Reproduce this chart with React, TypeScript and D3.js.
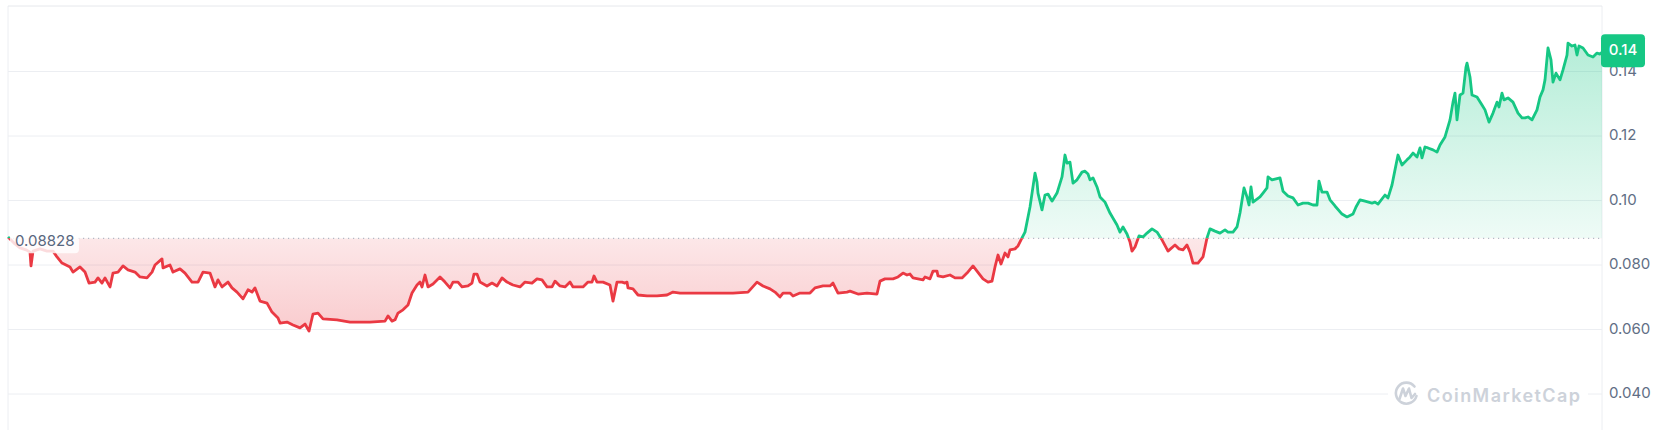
import React from "react";
import * as d3 from "d3";

// hours since start of the period
const hours = [
  0, 6, 12, 18, 22, 23, 25, 32, 39, 45, 49, 54, 62, 65, 72, 77, 81, 87, 90, 94,
  97, 102, 105, 110, 115, 120, 127, 132, 139, 144, 147, 154, 155, 162, 165, 172, 177, 184, 190, 195,
  202, 207, 210, 214, 220, 224, 229, 235, 240, 244, 247, 252, 259, 264, 270, 272, 279, 285, 292, 297,
  301, 305, 310, 315, 329, 342, 362, 377, 380, 384, 387, 390, 395, 400, 404, 409, 412, 414, 417, 420,
  425, 432, 437, 442, 445, 450, 454, 460, 464, 466, 469, 472, 479, 484, 489, 494, 499, 505, 512, 517,
  524, 529, 534, 539, 544, 547, 552, 557, 562, 565, 575, 580, 584, 586, 589, 595, 602, 605, 609, 614,
  617, 619, 620, 625, 630, 639, 649, 659, 665, 672, 685, 699, 712, 725, 740, 749, 755, 762, 767, 772,
  775, 782, 785, 792, 802, 807, 815, 822, 825, 830, 839, 842, 850, 859, 869, 872, 877, 885, 890, 895,
  899, 902, 905, 915, 917, 922, 925, 929, 930, 935, 942, 947, 954, 959, 965, 969, 975, 980, 984, 987,
  990, 993, 997, 1000, 1002, 1007, 1010, 1014, 1017, 1022, 1027, 1029, 1030, 1034, 1037, 1040, 1044, 1049, 1054, 1057,
  1059, 1062, 1065, 1069, 1074, 1077, 1080, 1082, 1085, 1089, 1092, 1097, 1102, 1109, 1112, 1115, 1119, 1122, 1124, 1127,
  1131, 1135, 1139, 1144, 1149, 1154, 1160, 1167, 1171, 1175, 1179, 1182, 1185, 1190, 1195, 1199, 1202, 1207, 1212, 1217,
  1220, 1225, 1229, 1232, 1236, 1239, 1241, 1243, 1245, 1252, 1255, 1259, 1260, 1264, 1272, 1275, 1280, 1285, 1290, 1295,
  1300, 1305, 1309, 1311, 1314, 1319, 1322, 1327, 1334, 1339, 1345, 1348, 1352, 1357, 1364, 1367, 1370, 1377, 1380, 1384,
  1387, 1390, 1394, 1399, 1402, 1405, 1409, 1412, 1414, 1417, 1420, 1425, 1429, 1432, 1437, 1442, 1445, 1447, 1449, 1452,
  1455, 1458, 1459, 1462, 1464, 1469, 1474, 1477, 1481, 1485, 1489, 1491, 1494, 1496, 1500, 1505, 1510, 1514, 1517, 1520,
  1524, 1529, 1532, 1535, 1537, 1540, 1543, 1545, 1548, 1552, 1555, 1559, 1560, 1564, 1567, 1569, 1571, 1575, 1580, 1585,
  1589, 1592, 1594,
];

// price in USD
const prices = [
  0.0887, 0.0868, 0.0853, 0.0847, 0.084, 0.0797, 0.0843, 0.085, 0.0843, 0.0843, 0.0825, 0.0806, 0.0794, 0.0778, 0.0794, 0.0778, 0.0744, 0.0747, 0.076, 0.0744,
  0.076, 0.0732, 0.0775, 0.0778, 0.0797, 0.0785, 0.0778, 0.0763, 0.076, 0.0778, 0.08, 0.0819, 0.0791, 0.08, 0.0778, 0.0788, 0.0775, 0.0747, 0.0747, 0.0778,
  0.0775, 0.0732, 0.0754, 0.0732, 0.0747, 0.0729, 0.0716, 0.0695, 0.0723, 0.0716, 0.0729, 0.0688, 0.0682, 0.0654, 0.0636, 0.062, 0.0623, 0.0614, 0.0605, 0.0617,
  0.0595, 0.0648, 0.0651, 0.0633, 0.063, 0.0623, 0.0623, 0.0626, 0.0642, 0.0626, 0.063, 0.0651, 0.0661, 0.0676, 0.0713, 0.0738, 0.0747, 0.0732, 0.0769, 0.0732,
  0.0741, 0.0763, 0.0747, 0.0729, 0.0747, 0.0747, 0.0732, 0.0735, 0.0744, 0.0772, 0.0772, 0.0747, 0.0735, 0.0744, 0.0735, 0.076, 0.0747, 0.0738, 0.0732, 0.0747,
  0.0744, 0.0757, 0.0754, 0.0732, 0.0732, 0.075, 0.0735, 0.0732, 0.0747, 0.0732, 0.0732, 0.0747, 0.0747, 0.0766, 0.0747, 0.0747, 0.0738, 0.0688, 0.0747, 0.0747,
  0.0744, 0.0747, 0.0729, 0.0726, 0.0707, 0.0704, 0.0704, 0.0707, 0.0716, 0.0713, 0.0713, 0.0713, 0.0713, 0.0713, 0.0716, 0.0747, 0.0735, 0.0726, 0.0716, 0.0701,
  0.0713, 0.0713, 0.0704, 0.0713, 0.0713, 0.0729, 0.0735, 0.0735, 0.0744, 0.0713, 0.0716, 0.0719, 0.071, 0.0713, 0.071, 0.075, 0.0757, 0.0757, 0.0763, 0.0775,
  0.0769, 0.0772, 0.076, 0.0754, 0.0763, 0.0757, 0.0781, 0.0781, 0.0766, 0.0763, 0.0769, 0.076, 0.076, 0.0775, 0.0797, 0.0781, 0.0757, 0.0747, 0.075, 0.0794,
  0.0831, 0.0803, 0.0837, 0.0825, 0.0847, 0.085, 0.0859, 0.0884, 0.0902, 0.098, 0.1085, 0.1057, 0.1023, 0.0971, 0.1017, 0.102, 0.0998, 0.1023, 0.1073, 0.1141,
  0.1116, 0.1119, 0.1054, 0.1064, 0.1088, 0.1091, 0.1082, 0.1064, 0.107, 0.1042, 0.1011, 0.0995, 0.0961, 0.0924, 0.0902, 0.0918, 0.0896, 0.0871, 0.0843, 0.0856,
  0.089, 0.0887, 0.0899, 0.0912, 0.0902, 0.0878, 0.0843, 0.0862, 0.085, 0.0847, 0.0862, 0.084, 0.0806, 0.0806, 0.0825, 0.0884, 0.0912, 0.0905, 0.0899, 0.0909,
  0.0902, 0.0902, 0.0918, 0.0961, 0.1039, 0.1011, 0.0986, 0.1042, 0.0995, 0.1011, 0.1023, 0.1039, 0.1073, 0.1064, 0.107, 0.1029, 0.1014, 0.1008, 0.0986, 0.0992,
  0.0992, 0.0986, 0.0986, 0.106, 0.1026, 0.1026, 0.1002, 0.0983, 0.0958, 0.0949, 0.0958, 0.098, 0.1002, 0.0998, 0.0992, 0.0995, 0.0989, 0.1017, 0.1008, 0.1048,
  0.1095, 0.1141, 0.111, 0.1126, 0.1135, 0.1147, 0.1135, 0.1163, 0.1132, 0.1166, 0.1163, 0.1157, 0.115, 0.1172, 0.1197, 0.125, 0.1305, 0.1333, 0.125, 0.1327,
  0.1333, 0.1414, 0.1426, 0.1383, 0.1327, 0.1321, 0.1296, 0.1281, 0.1243, 0.1271, 0.1305, 0.129, 0.1333, 0.1312, 0.1318, 0.1305, 0.1271, 0.1256, 0.1256, 0.1259,
  0.125, 0.1281, 0.1321, 0.1343, 0.1374, 0.1473, 0.1436, 0.1367, 0.1395, 0.1374, 0.1405, 0.1451, 0.1488, 0.1479, 0.1482, 0.1451, 0.1479, 0.1473, 0.1451, 0.1445,
  0.1457, 0.1454, 0.146,
];

const yTicks = [0.04, 0.06, 0.08, 0.1, 0.12, 0.14];
const basePrice = 0.08828;
const baseLabel = "0.08828";

const W = 1666;
const H = 430;
const GREEN = "#16c784";
const RED = "#ea3943";
const FONT = "Inter, 'Noto Sans', sans-serif";

export default function App() {
  const data = hours.map((h, i) => ({ h, p: prices[i] }));
  const x = d3.scaleLinear().domain([0, 1594]).range([8, 1602]);
  const y = d3.scaleLinear().domain([0.04, 0.16]).range([394, 7]);
  const yBase = y(basePrice);
  const left = x(0);
  const right = x(1594);

  const line = d3
    .line<{ h: number; p: number }>()
    .x((d) => x(d.h))
    .y((d) => y(d.p));
  const area = d3
    .area<{ h: number; p: number }>()
    .x((d) => x(d.h))
    .y0(yBase)
    .y1((d) => y(d.p));

  const linePath = line(data) || "";
  const areaPath = area(data) || "";
  const fmt = d3.format(".2r");
  const last = prices[prices.length - 1];
  const lastText = d3.format(".2f")(Math.floor(last * 100) / 100);
  const yMax = y(d3.max(prices) as number);
  const yMin = y(d3.min(prices) as number);
  const yLast = y(last);

  return (
    <svg
      width={W}
      height={H}
      style={{ position: "absolute", left: 0, top: 0, fontFamily: FONT }}
    >
      <defs>
        <clipPath id="clipUp">
          <rect x={0} y={0} width={W} height={yBase} />
        </clipPath>
        <clipPath id="clipDown">
          <rect x={0} y={yBase} width={W} height={H - yBase} />
        </clipPath>
        <linearGradient id="gUp" gradientUnits="userSpaceOnUse" x1={0} y1={yMax} x2={0} y2={yBase}>
          <stop offset="0" stopColor={GREEN} stopOpacity={0.32} />
          <stop offset="1" stopColor={GREEN} stopOpacity={0.07} />
        </linearGradient>
        <linearGradient id="gDown" gradientUnits="userSpaceOnUse" x1={0} y1={yBase} x2={0} y2={yMin}>
          <stop offset="0" stopColor={RED} stopOpacity={0.12} />
          <stop offset="1" stopColor={RED} stopOpacity={0.26} />
        </linearGradient>
      </defs>

      {/* frame */}
      <line x1={left} x2={left} y1={6} y2={H} stroke="#eceef2" />
      <line x1={right} x2={right} y1={6} y2={H} stroke="#eceef2" />
      <line x1={left} x2={right} y1={6} y2={6} stroke="#e6e8ec" />

      {/* grid */}
      {yTicks.map((t) => (
        <line key={t} x1={left} x2={right} y1={y(t)} y2={y(t)} stroke="#eceef2" />
      ))}

      {/* watermark */}
      <rect x={1388} y={380} width={200} height={32} fill="#fff" />
      <g stroke="#cdd2da" strokeWidth={2.6} fill="none" strokeLinecap="round" strokeLinejoin="round">
        <path d="M1414.5,386.5 A10.5,10.5 0 1 0 1416.5,396" />
        <path d="M1399.5,399 L1403,388.5 L1405.5,396 L1409,388.5 L1411.5,398 L1415,394" />
      </g>
      <text x={1427} y={402} fontSize={18} fontWeight={600} fill="#cdd2da" textLength={153}>
        CoinMarketCap
      </text>

      {/* areas */}
      <path d={areaPath} fill="url(#gUp)" clipPath="url(#clipUp)" />
      <path d={areaPath} fill="url(#gDown)" clipPath="url(#clipDown)" />

      {/* baseline */}
      <line
        x1={left}
        x2={right}
        y1={yBase}
        y2={yBase}
        stroke="#a3abbb"
        strokeWidth={1}
        strokeDasharray="1.2 3.8"
      />

      {/* lines */}
      <path d={linePath} fill="none" stroke={GREEN} strokeWidth={2.8} strokeLinejoin="round" clipPath="url(#clipUp)" />
      <path d={linePath} fill="none" stroke={RED} strokeWidth={2.8} strokeLinejoin="round" clipPath="url(#clipDown)" />

      {/* baseline label */}
      <rect x={10} y={yBase - 10} width={69} height={25} rx={4} fill="#fff" fillOpacity={0.82} />
      <text x={15} y={yBase + 3.5} fontSize={15} fill="#58667e" dominantBaseline="middle">
        {baseLabel}
      </text>

      {/* y axis */}
      {yTicks.map((t) => (
        <text key={t} x={1609} y={y(t)} fontSize={15} fill="#616e85" dominantBaseline="middle">
          {fmt(t)}
        </text>
      ))}

      {/* last price tag */}
      <rect x={1601} y={yLast - 18} width={44} height={33} rx={4} fill={GREEN} />
      <text
        x={1623}
        y={yLast - 1}
        fontSize={15}
        fontWeight={500}
        fill="#fff"
        textAnchor="middle"
        dominantBaseline="middle"
      >
        {lastText}
      </text>
    </svg>
  );
}
